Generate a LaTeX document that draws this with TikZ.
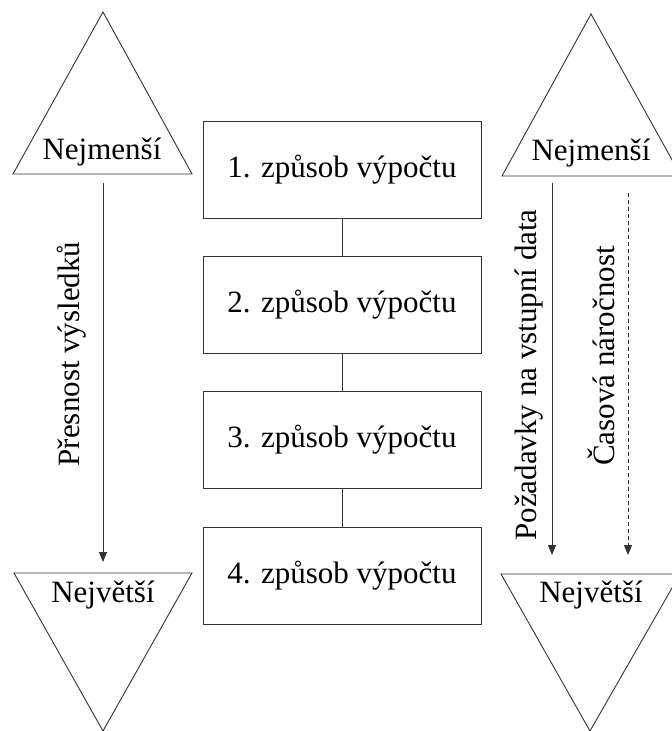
\documentclass[tikz,border=0pt]{standalone}
\usepackage{fontspec}
\setmainfont{Liberation Serif}
\usetikzlibrary{arrows.meta}
\begin{document}
\begin{tikzpicture}[x=1pt,y=-1pt,
  ln/.style={draw=black!80,line width=0.9pt},
  box/.style={ln,rectangle,minimum width=278pt,minimum height=97pt,inner sep=0pt,font=\fontsize{31}{36}\selectfont},
  lbl/.style={font=\fontsize{31}{36}\selectfont,inner sep=0pt},
  arr/.style={ln,-{Triangle[length=10pt,width=8pt]}},
  dsh/.style={arr,dash pattern=on 4pt off 3pt}
]
\useasboundingbox (0,0) rectangle (672,731);
\clip (0,0) rectangle (672,731);
% triangles
\draw[ln,fill=white] (103,12) -- (192,174) -- (13,174) -- cycle;
\draw[ln,fill=white] (591,14) -- (681,176) -- (502,176) -- cycle;
\draw[ln,fill=white] (14,573) -- (192,573) -- (103,731) -- cycle;
\draw[ln,fill=white] (501,574) -- (680,574) -- (590,731) -- cycle;
\node[lbl,anchor=base] (tl) at (102,159) {Nejmenší};
\node[lbl,anchor=base] (tr) at (591,160) {Nejmenší};
\node[lbl,anchor=base] (bl) at (103,602) {Největší};
\node[lbl,anchor=base] (br) at (591,602) {Největší};
% boxes
\node[box] (b1) at (342,169.5) {1. způsob výpočtu};
\node[box] (b2) at (342,304.5) {2. způsob výpočtu};
\node[box] (b3) at (342,440) {3. způsob výpočtu};
\node[box] (b4) at (342,576) {4. způsob výpočtu};
\draw[ln] (b1) -- (b2);
\draw[ln] (b2) -- (b3);
\draw[ln] (b3) -- (b4);
% arrows
\coordinate (a1s) at (103,183);
\coordinate (a1e) at (103,562);
\coordinate (a2s) at (552,183);
\coordinate (a2e) at (552,555);
\coordinate (a3s) at (628,193);
\coordinate (a3e) at (628,555);
\draw[arr] (a1s) -- (a1e);
\draw[arr] (a2s) -- (a2e);
\draw[dsh] (a3s) -- (a3e);
% rotated labels
\node[lbl,rotate=90] (t1) at (72,354) {Přesnost výsledků};
\node[lbl,rotate=90] (t2) at (529,375) {Požadavky na vstupní data};
\node[lbl,rotate=90] (t3) at (601,356) {Časová náročnost};
\end{tikzpicture}
\end{document}
